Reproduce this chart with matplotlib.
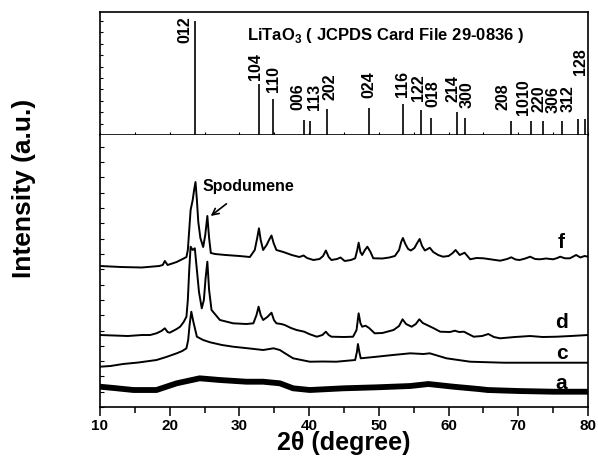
#!/usr/bin/env python3

import matplotlib
matplotlib.use('Agg')
import matplotlib.pyplot as plt
from matplotlib.ticker import MultipleLocator

plt.rcParams['font.family'] = ['Liberation Sans', 'DejaVu Sans']
plt.rcParams['font.weight'] = 'bold'
plt.rcParams['mathtext.fontset'] = 'custom'
plt.rcParams['mathtext.rm'] = 'Liberation Sans:bold'
plt.rcParams['mathtext.bf'] = 'Liberation Sans:bold'

# JCPDS 29-0836 reference lines (2theta, relative intensity)
ref_pos = [23.6, 32.8, 34.8, 39.2, 40.1, 42.5, 48.6, 53.5, 56.0, 57.5,
           61.2, 62.4, 68.9, 71.8, 73.5, 76.3, 78.5, 79.6]
ref_int = [100, 45, 32, 13, 12, 23, 24, 27, 22, 15,
           20, 15, 12.5, 12.5, 12.5, 12.5, 14, 14]
ref_hkl = ['012', '104', '110', '006', '113', '202', '024', '116', '122', '018',
           '214', '300', '208', '1010', '220', '306', '312', '128']

# measured patterns (stacked, arbitrary units)
f_x = [10.0, 13.0, 16.0, 18.5, 19.0, 19.3, 19.7, 21.0, 22.0, 22.4, 22.6, 22.85,
       23.0, 23.3, 23.5, 23.7, 23.9, 24.1, 24.4, 24.8, 25.1, 25.4, 25.65, 25.9,
       26.5, 28.0, 30.0, 31.5, 32.2, 32.55, 32.8, 33.05, 33.4, 33.9, 34.25, 34.6,
       34.9, 35.3, 36.3, 37.5, 38.6, 39.2, 39.7, 40.6, 41.5, 42.0, 42.4, 42.8,
       43.2, 44.0, 44.5, 45.1, 46.0, 46.6, 46.9, 47.1, 47.35, 47.6, 48.0, 48.35,
       48.8, 49.2, 50.5, 51.5, 52.3, 52.9, 53.2, 53.45, 53.8, 54.2, 54.6, 55.1,
       55.5, 55.85, 56.2, 56.6, 57.0, 57.3, 57.8, 58.5, 59.2, 60.0, 60.6, 61.0,
       61.6, 62.3, 63.1, 64.0, 65.0, 66.2, 67.4, 68.4, 69.0, 69.6, 70.2, 71.0,
       71.7, 72.4, 73.1, 74.0, 75.0, 75.6, 76.0, 76.7, 77.4, 78.3, 78.9, 79.5,
       80.0]
f_y = [141, 140, 139.5, 141, 142, 146, 142, 145, 148.5, 150, 157, 182,
       197, 207, 217, 225, 207, 185, 169, 160, 172, 191, 169, 154,
       153, 152, 151, 150, 157, 169, 178.7, 167, 157, 162, 167, 171.5,
       164, 157, 155, 152, 150, 151.5, 149, 147, 148, 151, 156.5, 150,
       147, 148, 149.5, 146, 147, 148.7, 157, 164.3, 155, 152, 157, 160.3,
       155, 148.7, 148.5, 149.5, 151, 157, 165, 169, 163, 158, 156.5, 159,
       164, 168, 161, 156.5, 158, 159.3, 155, 152, 150.3, 151, 154, 157,
       152, 154.3, 147.7, 149, 148.7, 147.5, 146.3, 148, 149.7, 147.5, 147, 148.5,
       150.3, 148, 147.7, 148.5, 147.7, 149, 150.3, 148.7, 148.7, 152, 149.5, 151,
       150.3]

d_x = [10.0, 12.0, 14.0, 16.0, 17.2, 18.1, 18.8, 19.3, 19.7, 20.0, 21.0, 21.5,
       22.0, 22.4, 22.6, 22.8, 23.0, 23.3, 23.6, 23.9, 24.2, 24.6, 24.9, 25.15,
       25.4, 25.65, 26.0, 27.2, 29.1, 31.0, 32.0, 32.45, 32.75, 33.05, 33.4, 34.0,
       34.6, 34.95, 35.3, 36.0, 36.5, 37.4, 38.2, 39.3, 40.0, 41.1, 41.9, 42.4,
       42.8, 43.2, 45.0, 46.3, 46.8, 47.1, 47.35, 47.6, 48.1, 48.6, 49.4, 50.5,
       52.1, 52.9, 53.4, 53.9, 54.7, 55.3, 55.8, 56.3, 56.9, 57.8, 58.8, 60.2,
       60.9, 61.5, 62.2, 63.6, 64.8, 65.7, 66.5, 67.4, 69.5, 71.7, 73.5, 75.5,
       77.5, 80.0]
d_y = [72, 71.5, 71, 72, 72, 73.7, 76, 78.7, 75, 74.3, 78, 80.3,
       85, 90.3, 107, 137, 160.3, 157, 158.7, 137, 115, 98.7, 107, 129,
       145.3, 117, 97, 87, 83.7, 83, 83.7, 92, 100.3, 92, 87, 90,
       94.3, 87, 83.7, 83, 82, 79, 77, 75.3, 73, 70.3, 72, 75.3,
       72, 70.3, 70, 70.3, 77, 93.7, 84, 80.3, 81.3, 79, 73.7, 74,
       77, 81, 87.7, 83, 80.3, 83, 87.7, 84, 82, 79, 75.3, 75,
       76.3, 75, 75.3, 70.3, 71, 73, 70, 68.7, 70, 71, 70, 70.3,
       71, 72]

c_x = [10.0, 11.5, 13.3, 15.5, 18.1, 19.5, 21.0, 21.8, 22.4, 22.65, 22.85, 23.1,
       23.4, 23.9, 24.8, 25.8, 27.5, 29.1, 31.5, 33.4, 34.9, 35.8, 36.7, 37.7,
       40.1, 42.0, 43.9, 46.6, 46.85, 47.0, 47.2, 47.4, 49.7, 52.0, 54.5, 56.4,
       57.3, 59.7, 63.1, 67.9, 75.0, 80.0]
c_y = [40.3, 41, 43, 44.5, 47, 50, 53.7, 56, 58.7, 67, 82, 95.3,
       85, 70.3, 67, 64.7, 62, 60.3, 58.5, 57, 58.7, 57, 53, 48.7,
       45.3, 45.5, 45.3, 47, 55, 63, 55, 48.7, 50.3, 52, 53.7, 53,
       53.7, 48.7, 45.3, 44.3, 44.3, 44.3]

a_x = [10.0, 12.0, 14.8, 18.1, 21.0, 24.3, 27.2, 31.0, 33.4, 35.8, 37.7, 40.1,
       44.9, 49.7, 54.5, 57.1, 60.7, 64.3, 65.6, 70.0, 75.0, 80.0]
a_y = [20.3, 19, 17, 17, 23.7, 28.7, 27, 25.3, 25.3, 23.7, 18.7, 17,
       18.7, 19.7, 21, 23, 20.3, 18, 17, 16, 15.3, 15.3]

patterns = [('f', f_x, f_y, 164), ('d', d_x, d_y, 85),
            ('c', c_x, c_y, 54), ('a', a_x, a_y, 24)]

# label anchor (2theta, height) for the hkl texts
hkl_lab_x = [22.2, 32.33, 34.82, 38.36, 40.7, 43.0, 48.59, 53.32, 55.62, 57.73,
             60.64, 62.6, 67.8, 70.8, 73.0, 75.0, 77.1, 78.96]
hkl_lab_y = [80.8, 48.3, 37.8, 21.9, 21.9, 30.8, 32.4, 33.4, 29.8, 24.6,
             29.2, 23.8, 21.9, 17.6, 20.5, 19.4, 20.5, 52.7]


def main():
    fig = plt.figure(figsize=(5.98, 4.65), dpi=100)
    ax_top = fig.add_axes([0.1672, 0.7097, 0.8161, 0.2645])
    ax = fig.add_axes([0.1672, 0.1247, 0.8161, 0.5850])

    for a in (ax_top, ax):
        for s in a.spines.values():
            s.set_linewidth(1.2)

    # reference sticks
    ax_top.vlines(ref_pos, 0, ref_int, color='black', linewidth=1.2)
    for hkl, lx, ly in zip(ref_hkl, hkl_lab_x, hkl_lab_y):
        ax_top.text(lx, ly, hkl, rotation=90, ha='center', va='bottom',
                    fontsize=11.5, fontweight='bold')
    ax_top.text(50.9, 87.5, r'LiTaO$_3$ ( JCPDS Card File 29-0836 )',
                ha='center', va='center', fontsize=12, fontweight='bold')
    ax_top.set_xlim(10, 80)
    ax_top.set_ylim(0, 108)
    ax_top.xaxis.set_major_locator(MultipleLocator(5))
    ax_top.yaxis.set_major_locator(MultipleLocator(10))
    ax_top.tick_params(direction='in', length=2, width=0.8,
                       labelbottom=False, labelleft=False)

    # measured patterns
    for name, xs, ys, ly in patterns:
        lw = 4.2 if name == 'a' else 1.4
        ax.plot(xs, ys, color='black', linewidth=lw)
        ax.text(76.2, ly, name, ha='center', va='center',
                fontsize=15, fontweight='bold')

    ax.annotate('Spodumene', xy=(25.88, 191), xytext=(31.3, 220.3),
                ha='center', va='center', fontsize=11.5, fontweight='bold',
                arrowprops=dict(arrowstyle='->', color='black', lw=1.2,
                                shrinkA=8, shrinkB=0))

    ax.set_xlim(10, 80)
    ax.set_ylim(0, 272)
    ax.spines['top'].set_visible(False)
    ax.xaxis.set_major_locator(MultipleLocator(10))
    ax.xaxis.set_minor_locator(MultipleLocator(5))
    ax.yaxis.set_major_locator(MultipleLocator(15.3))
    ax.tick_params(axis='x', which='major', direction='out', length=6.5,
                   width=1.1, labelsize=11, pad=2)
    ax.tick_params(axis='x', which='minor', direction='out', length=4,
                   width=1.1)
    ax.tick_params(axis='y', direction='in', length=3, width=0.8,
                   labelleft=False)
    for lab in ax.get_xticklabels():
        lab.set_fontweight('bold')

    ax.set_xlabel('2θ (degree)', fontsize=18, fontweight='bold', labelpad=-1)
    fig.text(0.04, 1 - 188 / 465, 'Intensity (a.u.)', rotation=90,
             ha='center', va='center', fontsize=19, fontweight='bold')

    plt.savefig('out.png', dpi=100)


if __name__ == "__main__":
    main()
